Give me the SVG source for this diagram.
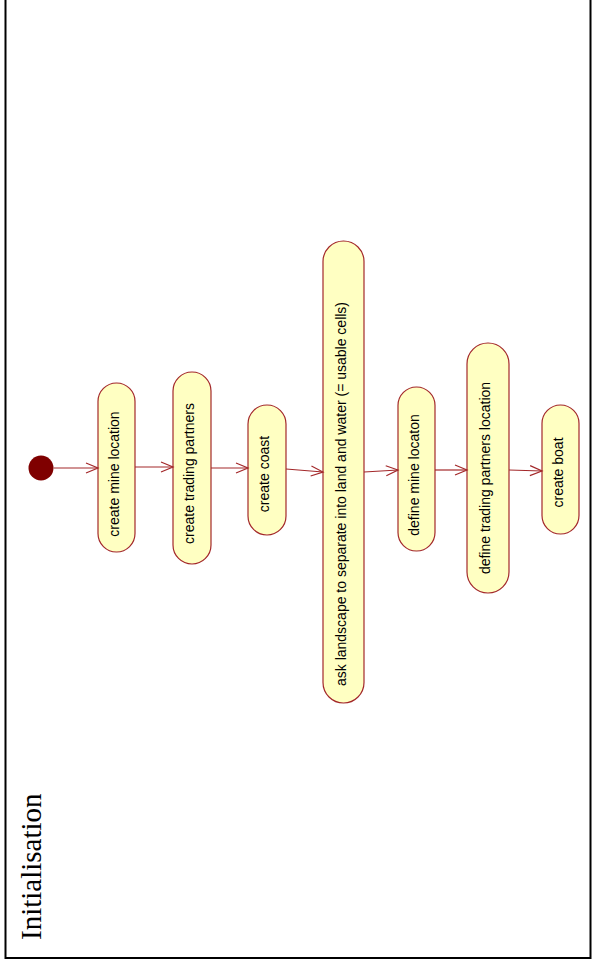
<svg xmlns="http://www.w3.org/2000/svg" width="592" height="967" viewBox="0 0 592 967">
<style>
.node rect{fill:#FFFFC2;stroke:#A3282A;stroke-width:1.2}
.node text{font-family:"Liberation Sans",Arial,sans-serif;font-size:14px;fill:#000;text-anchor:middle}
.conn line{stroke:#A3282A;stroke-width:1.2;marker-end:url(#arr)}
.title{font-family:"Liberation Serif","Times New Roman",serif;font-size:29px;fill:#000}
</style>
<defs>
<marker id="arr" markerUnits="userSpaceOnUse" markerWidth="14" markerHeight="12" refX="12" refY="5" orient="auto" overflow="visible">
<path d="M0,0 L12,5 L0,10" fill="none" stroke="#A3282A" stroke-width="1.2"/>
</marker>
</defs>
<rect x="5.5" y="-10" width="585" height="968" fill="#fff" stroke="#000" stroke-width="2"/>
<text class="title" transform="translate(41,940) rotate(-90)">Initialisation</text>
<g id="start"><circle cx="41" cy="468" r="12.5" fill="#7F0000"/></g>
<g id="n1" class="node"><rect x="98" y="383" width="37" height="169" rx="18.5"/><text transform="translate(116.5,474) rotate(-90)" y="2">create mine location</text></g>
<g id="n2" class="node"><rect x="173" y="372" width="38" height="192" rx="19"/><text transform="translate(192,473.5) rotate(-90)" y="2">create trading partners</text></g>
<g id="n3" class="node"><rect x="248" y="405" width="38" height="130" rx="19"/><text transform="translate(267,474) rotate(-90)" y="2">create coast</text></g>
<g id="n4" class="node"><rect x="323" y="241" width="41" height="462" rx="20.5"/><text transform="translate(343.5,494) rotate(-90)" y="2">ask landscape to separate into land and water (= usable cells)</text></g>
<g id="n5" class="node"><rect x="398" y="387" width="37" height="164" rx="18.5"/><text transform="translate(416.5,475) rotate(-90)" y="2">define mine locaton</text></g>
<g id="n6" class="node"><rect x="467" y="343" width="42" height="250" rx="21"/><text transform="translate(488,478) rotate(-90)" y="2">define trading partners location</text></g>
<g id="n7" class="node"><rect x="542" y="405" width="37" height="129" rx="18.5"/><text transform="translate(560.5,472.5) rotate(-90)" y="2">create boat</text></g>
<g id="connectors" class="conn">
<line x1="53.5" y1="468" x2="98" y2="468"/>
<line x1="135" y1="467" x2="173" y2="467"/>
<line x1="211" y1="468" x2="248" y2="468"/>
<line x1="286" y1="469" x2="323" y2="472"/>
<line x1="364" y1="472" x2="398" y2="470"/>
<line x1="435" y1="470" x2="467" y2="470"/>
<line x1="509" y1="470" x2="542" y2="471"/>
</g>
</svg>
